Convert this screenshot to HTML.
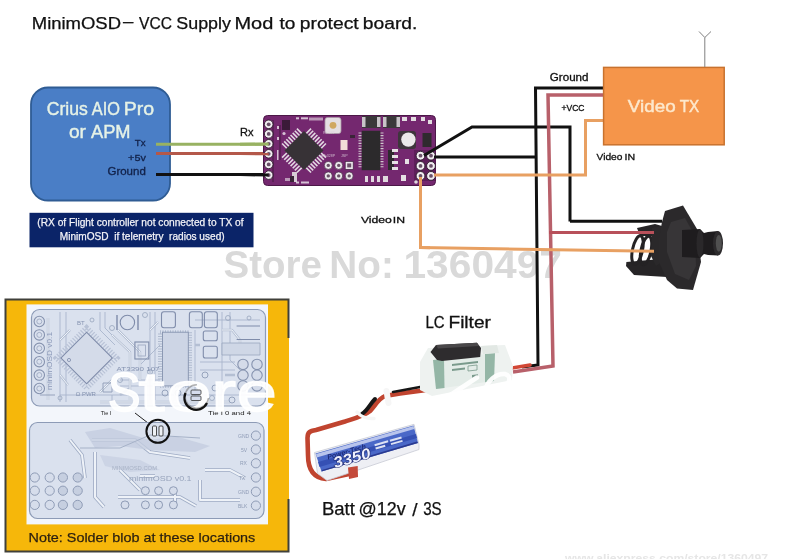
<!DOCTYPE html>
<html><head><meta charset="utf-8">
<style>
html,body{margin:0;padding:0;background:#fff;width:788px;height:559px;overflow:hidden}
svg{display:block;font-family:"Liberation Sans",sans-serif;filter:blur(0.35px)}
</style></head><body>
<svg width="788" height="559" viewBox="0 0 788 559">
<rect width="788" height="559" fill="#fff"/>
<!-- watermark -->
<g font-size="39.5" font-weight="bold" fill="#d9d9d9"><text x="223.53" y="278.2" textLength="98.30" lengthAdjust="spacingAndGlyphs">Store</text><text x="329.35" y="278.2" textLength="64.48" lengthAdjust="spacingAndGlyphs">No:</text><text x="403.42" y="278.2" textLength="158.62" lengthAdjust="spacingAndGlyphs">1360497</text></g>

<!-- title -->
<g font-size="15.6" fill="#111" stroke="#111" stroke-width="0.25"><text x="31.76" y="29" textLength="89.29" lengthAdjust="spacingAndGlyphs">MinimOSD</text><text x="123.00" y="27.2" textLength="10.37" lengthAdjust="spacingAndGlyphs">–</text><text x="139.00" y="29" textLength="33.04" lengthAdjust="spacingAndGlyphs">VCC</text><text x="176.30" y="29" textLength="54.60" lengthAdjust="spacingAndGlyphs">Supply</text><text x="234.43" y="29" textLength="38.88" lengthAdjust="spacingAndGlyphs">Mod</text><text x="279.46" y="29" textLength="15.91" lengthAdjust="spacingAndGlyphs">to</text><text x="299.77" y="29" textLength="58.85" lengthAdjust="spacingAndGlyphs">protect</text><text x="362.77" y="29" textLength="54.61" lengthAdjust="spacingAndGlyphs">board.</text></g>

<!-- Blue controller box -->
<rect x="31" y="87.5" width="139" height="113" rx="17" fill="#4a7ec6" stroke="#2f5c94" stroke-width="1.8"/>
<g font-size="17.6" fill="#e6f2e6" stroke="#e6f2e6" stroke-width="0.4"><text x="46.70" y="114.5" textLength="41.07" lengthAdjust="spacingAndGlyphs" xml:space="preserve">Crius</text><text x="91.80" y="114.5" textLength="28.16" lengthAdjust="spacingAndGlyphs" xml:space="preserve">AIO</text><text x="123.75" y="114.5" textLength="30.42" lengthAdjust="spacingAndGlyphs" xml:space="preserve">Pro</text></g>
<g font-size="17.6" fill="#e6f2e6" stroke="#e6f2e6" stroke-width="0.4"><text x="68.94" y="138.4" textLength="17.03" lengthAdjust="spacingAndGlyphs" xml:space="preserve">or</text><text x="91.00" y="138.4" textLength="39.59" lengthAdjust="spacingAndGlyphs" xml:space="preserve">APM</text></g>
<g font-size="9.8" fill="#12224a" stroke="#12224a" stroke-width="0.3"><text x="134.80" y="146.3" textLength="10.78" lengthAdjust="spacingAndGlyphs" xml:space="preserve">Tx</text></g>
<g font-size="9.8" fill="#12224a" stroke="#12224a" stroke-width="0.3"><text x="128.05" y="160.8" textLength="17.83" lengthAdjust="spacingAndGlyphs" xml:space="preserve">+5v</text></g>
<g font-size="10.2" fill="#12224a" stroke="#12224a" stroke-width="0.3"><text x="107.44" y="175.3" textLength="38.37" lengthAdjust="spacingAndGlyphs" xml:space="preserve">Ground</text></g>

<!-- Navy note -->
<rect x="29.5" y="212.8" width="224" height="34.5" fill="#0b2468"/>
<g font-size="10.5" fill="#f4f4f8" stroke="#f4f4f8" stroke-width="0.25"><text x="37.32" y="226.4" textLength="206.20" lengthAdjust="spacingAndGlyphs" xml:space="preserve">(RX of Flight controller not connected to TX of</text></g>
<g font-size="10.5" fill="#f4f4f8" stroke="#f4f4f8" stroke-width="0.25"><text x="59.84" y="239.6" textLength="164.78" lengthAdjust="spacingAndGlyphs" xml:space="preserve">MinimOSD  if telemetry  radios used)</text></g>

<!-- wires left -->
<line x1="156" y1="144.3" x2="270" y2="144.3" stroke="#98b262" stroke-width="3"/>
<line x1="156" y1="153.5" x2="270" y2="153.5" stroke="#b4584a" stroke-width="3"/>
<line x1="156" y1="174.5" x2="270" y2="174.5" stroke="#111" stroke-width="3"/>
<g font-size="11.3" fill="#111" stroke="#111" stroke-width="0.3"><text x="240.02" y="135.5" textLength="13.49" lengthAdjust="spacingAndGlyphs" xml:space="preserve">Rx</text></g>

<!-- OSD board -->
<g id="osd">
<rect x="263.5" y="115.5" width="172" height="70" rx="4" fill="#74286f" stroke="#4c1848" stroke-width="1"/>
<path d="M273,120 L273,182 M280,125 L280,160" stroke="#5a2056" stroke-width="2"/>
<rect x="282" y="120" width="8" height="10" fill="#3a1a38"/>
<g fill="#f2eef2" stroke="#2a1a2a" stroke-width="0.9">
<circle cx="268.7" cy="124.3" r="4.3"/><circle cx="268.7" cy="133.9" r="4.3"/><circle cx="268.7" cy="143.8" r="4.3"/><circle cx="268.7" cy="153.8" r="4.3"/><circle cx="268.7" cy="164.4" r="4.3"/><circle cx="268.7" cy="175.1" r="4.3"/>
</g>
<g fill="#6a5068"><circle cx="268.7" cy="124.3" r="1.9"/><circle cx="268.7" cy="133.9" r="1.9"/><circle cx="268.7" cy="143.8" r="1.9"/><circle cx="268.7" cy="153.8" r="1.9"/><circle cx="268.7" cy="164.4" r="1.9"/><circle cx="268.7" cy="175.1" r="1.9"/></g>
<g transform="translate(304,150.6) rotate(45)">
<path d="M-10.5,-13.5 L-10.5,-20.5 M-7.5,-13.5 L-7.5,-20.5 M-4.5,-13.5 L-4.5,-20.5 M-1.5,-13.5 L-1.5,-20.5 M1.5,-13.5 L1.5,-20.5 M4.5,-13.5 L4.5,-20.5 M7.5,-13.5 L7.5,-20.5 M10.5,-13.5 L10.5,-20.5 M-10.5,13.5 L-10.5,20.5 M-7.5,13.5 L-7.5,20.5 M-4.5,13.5 L-4.5,20.5 M-1.5,13.5 L-1.5,20.5 M1.5,13.5 L1.5,20.5 M4.5,13.5 L4.5,20.5 M7.5,13.5 L7.5,20.5 M10.5,13.5 L10.5,20.5 M-13.5,-10.5 L-20.5,-10.5 M-13.5,-7.5 L-20.5,-7.5 M-13.5,-4.5 L-20.5,-4.5 M-13.5,-1.5 L-20.5,-1.5 M-13.5,1.5 L-20.5,1.5 M-13.5,4.5 L-20.5,4.5 M-13.5,7.5 L-20.5,7.5 M-13.5,10.5 L-20.5,10.5 M13.5,-10.5 L20.5,-10.5 M13.5,-7.5 L20.5,-7.5 M13.5,-4.5 L20.5,-4.5 M13.5,-1.5 L20.5,-1.5 M13.5,1.5 L20.5,1.5 M13.5,4.5 L20.5,4.5 M13.5,7.5 L20.5,7.5 M13.5,10.5 L20.5,10.5" stroke="#e2d8e2" stroke-width="1.6"/>
<rect x="-13.8" y="-13.8" width="27.6" height="27.6" fill="#373236"/>
</g>
<rect x="325" y="117.5" width="16" height="16" rx="2.5" fill="#e4dfe2" stroke="#a898a6" stroke-width="0.8"/>
<circle cx="333" cy="125.3" r="3.4" fill="#d0a860"/>
<rect x="340.5" y="140" width="7" height="10" fill="#f2dcd8"/>
<rect x="309" y="117.5" width="14" height="3" fill="#d8c8d6" opacity="0.7"/>
<rect x="285" y="178" width="10" height="3" fill="#d8c8d6" opacity="0.7"/>
<g fill="#ece8ec" stroke="#402440" stroke-width="0.7">
<circle cx="328.3" cy="165.4" r="4"/><circle cx="338.7" cy="165.4" r="4"/><rect x="345.2" y="161.4" width="8" height="8"/>
<circle cx="328.3" cy="175.9" r="4"/><circle cx="338.7" cy="175.9" r="4"/><circle cx="349.2" cy="175.9" r="4"/>
</g>
<g fill="#6a5068"><circle cx="328.3" cy="165.4" r="1.7"/><circle cx="338.7" cy="165.4" r="1.7"/><circle cx="328.3" cy="175.9" r="1.7"/><circle cx="338.7" cy="175.9" r="1.7"/><circle cx="349.2" cy="175.9" r="1.7"/><rect x="347.2" y="163.4" width="4" height="4"/></g>
<rect x="292" y="172" width="5" height="10" fill="#d8ccd6"/>
<path d="M358.5,133.0 L361.7,133.0 M358.5,135.6 L361.7,135.6 M358.5,138.2 L361.7,138.2 M358.5,140.8 L361.7,140.8 M358.5,143.4 L361.7,143.4 M358.5,146.0 L361.7,146.0 M358.5,148.6 L361.7,148.6 M358.5,151.2 L361.7,151.2 M358.5,153.8 L361.7,153.8 M358.5,156.4 L361.7,156.4 M358.5,159.0 L361.7,159.0 M358.5,161.6 L361.7,161.6 M358.5,164.2 L361.7,164.2 M358.5,166.8 L361.7,166.8 " stroke="#cfc6ce" stroke-width="1.1"/>
<path d="M380.3,133.0 L383.5,133.0 M380.3,135.6 L383.5,135.6 M380.3,138.2 L383.5,138.2 M380.3,140.8 L383.5,140.8 M380.3,143.4 L383.5,143.4 M380.3,146.0 L383.5,146.0 M380.3,148.6 L383.5,148.6 M380.3,151.2 L383.5,151.2 M380.3,153.8 L383.5,153.8 M380.3,156.4 L383.5,156.4 M380.3,159.0 L383.5,159.0 M380.3,161.6 L383.5,161.6 M380.3,164.2 L383.5,164.2 M380.3,166.8 L383.5,166.8 " stroke="#cfc6ce" stroke-width="1.1"/>
<rect x="361.7" y="130.8" width="18.6" height="39.4" fill="#2c2a2c"/>
<rect x="362" y="116" width="18.5" height="12" fill="#3a383a"/>
<rect x="383" y="116" width="17" height="12" fill="#3a383a"/>
<g fill="#c8c4c8"><rect x="362" y="117" width="3.5" height="10"/><rect x="377" y="117" width="3.5" height="10"/><rect x="383" y="117" width="3.5" height="10"/><rect x="396.5" y="117" width="3.5" height="10"/></g>
<g fill="#e2dce0"><rect x="402" y="117" width="5" height="4"/><rect x="411" y="117" width="5" height="4"/><rect x="421" y="117" width="4" height="4"/><rect x="428" y="120" width="4" height="4"/></g>
<rect x="398" y="131" width="18" height="18" rx="3" fill="#3e363c"/>
<circle cx="408.4" cy="139.6" r="7.2" fill="#ebe9ea"/>
<rect x="422.5" y="133" width="9" height="14" fill="#2e2a2e"/>
<rect x="388" y="150" width="6" height="20" fill="#2e2a2e"/>
<g fill="#e6e0e4"><rect x="392" y="149" width="6" height="3"/><rect x="392" y="155" width="6" height="3"/><rect x="392" y="161" width="6" height="3"/><rect x="392" y="167" width="6" height="3"/><rect x="405" y="159" width="4" height="5"/><rect x="401" y="175" width="5" height="6"/></g>
<g fill="#e0d8de"><rect x="365" y="176" width="3" height="6"/><rect x="371" y="176" width="3" height="6"/><rect x="377" y="176" width="3" height="6"/><rect x="383" y="176" width="5" height="6"/></g>
<rect x="414" y="150" width="21.5" height="31" fill="#5e1e5a"/>
<g fill="#f2eef2" stroke="#2a1a2a" stroke-width="0.9">
<circle cx="420.5" cy="155.7" r="4.4"/><circle cx="431" cy="155.7" r="4.4"/>
<circle cx="420.5" cy="165.9" r="4.4"/><circle cx="431" cy="165.9" r="4.4"/>
<circle cx="420.5" cy="175.9" r="4.4"/><circle cx="431" cy="175.9" r="4.4"/>
</g>
<g fill="#6a5068"><circle cx="420.5" cy="155.7" r="1.9"/><circle cx="431" cy="155.7" r="1.9"/><circle cx="420.5" cy="165.9" r="1.9"/><circle cx="431" cy="165.9" r="1.9"/><circle cx="420.5" cy="175.9" r="1.9"/><circle cx="431" cy="175.9" r="1.9"/></g>
<circle cx="416" cy="182" r="1.8" fill="#e0d8de"/>
<g fill="#e6dce6" opacity="0.85">
<circle cx="284" cy="133.5" r="1.6"/>
<text x="321" y="156.5" font-size="3.6" fill="#ddd0dc">ATs328P</text><text x="341" y="156.5" font-size="3.6" fill="#ddd0dc">JSP</text>
<text x="323" y="133.5" font-size="3.6" fill="#ddd0dc">RESET</text>
<rect x="296" y="117.3" width="3" height="2"/><rect x="301" y="117.3" width="7" height="2"/>
<rect x="296" y="181.5" width="3" height="2"/><rect x="301" y="181.5" width="8" height="2"/>
<rect x="277" y="126" width="2" height="3"/><rect x="277" y="137" width="2" height="3"/><rect x="277" y="150" width="1.5" height="10"/>
</g>
<g fill="#3a2438"><rect x="290" y="176" width="4" height="6"/><rect x="350" y="135" width="5" height="3"/></g>

</g>
<line x1="240" y1="144.3" x2="268.7" y2="144" stroke="#98b262" stroke-width="3"/>
<line x1="240" y1="153.6" x2="268.7" y2="153.8" stroke="#b4584a" stroke-width="3"/>
<line x1="240" y1="174.5" x2="268.7" y2="175.1" stroke="#111" stroke-width="3"/>

<!-- wires right -->
<g fill="none" stroke-width="3" stroke-linejoin="miter">
<polyline points="424,155.5 472,127 570,127 570,221.5" stroke="#111"/>
<polyline points="434,157 536,157" stroke="#111"/>
<polyline points="603,88 535.5,88 538,365 522,367" stroke="#111"/>
<polyline points="603,95 548,95 553,366 513,372" stroke="#b8606a" stroke-width="3.5"/>
<polyline points="434,175 585.5,175 585.5,120.5 603,120.5" stroke="#e8a062"/>
<polyline points="420.5,177 420.5,247.6 430,247.7" stroke="#e8a062"/>

</g>
<g font-size="10.2" fill="#111" stroke="#111" stroke-width="0.3"><text x="549.83" y="80.7" textLength="38.68" lengthAdjust="spacingAndGlyphs" xml:space="preserve">Ground</text></g>
<g font-size="8.4" fill="#111" stroke="#111" stroke-width="0.3"><text x="561.49" y="111.4" textLength="23.05" lengthAdjust="spacingAndGlyphs" xml:space="preserve">+VCC</text></g>
<g font-size="9.3" fill="#111" stroke="#111" stroke-width="0.3"><text x="596.59" y="160.4" textLength="25.86" lengthAdjust="spacingAndGlyphs" xml:space="preserve">Video</text><text x="624.59" y="160.4" textLength="10.61" lengthAdjust="spacingAndGlyphs" xml:space="preserve">IN</text></g>
<g font-size="9.6" fill="#111" stroke="#111" stroke-width="0.3"><text x="360.97" y="222.9" textLength="30.94" lengthAdjust="spacingAndGlyphs" xml:space="preserve">Video</text><text x="392.85" y="222.9" textLength="12.24" lengthAdjust="spacingAndGlyphs" xml:space="preserve">IN</text></g>

<!-- Video TX -->
<rect x="603.6" y="67.4" width="120.6" height="77.4" fill="#f5954a" stroke="#c8722e" stroke-width="1.5"/>
<g font-size="16.8" fill="#fde8cc" stroke="#fde8cc" stroke-width="0.45"><text x="627.89" y="111.7" textLength="47.77" lengthAdjust="spacingAndGlyphs" xml:space="preserve">Video</text><text x="679.64" y="111.7" textLength="19.50" lengthAdjust="spacingAndGlyphs" xml:space="preserve">TX</text></g>
<polyline points="704.8,67 704.8,37.5 699,31.5" fill="none" stroke="#808080" stroke-width="1"/>
<polyline points="704.8,37.5 711,31.5" fill="none" stroke="#808080" stroke-width="1"/>

<!-- camera -->
<g id="cam">
<path d="M626.4,262 L661,259 L667,277 L634,275 L626,266 Z" fill="#262426"/>
<path d="M637,228 L655,224 L662,226 L662,236 L640,236 Z" fill="#262426"/>
<ellipse cx="637.5" cy="250" rx="5" ry="14.5" fill="none" stroke="#242224" stroke-width="3" transform="rotate(12 637.5 250)"/>
<ellipse cx="646" cy="250.5" rx="5" ry="14.5" fill="none" stroke="#242224" stroke-width="3" transform="rotate(12 646 250.5)"/>
<path d="M652,228 L662,226 L662,262 L656,266 L651,256 Z" fill="#2a282a"/>
<path d="M665,211 L683,205.5 L697,229 L701,262 L693,290 L677,288.5 L667,280 L659,262 L659,238 L662,222 Z" fill="#2b292b"/>
<path d="M671,222 L685,218 L695,236 L696,266 L689,280 L675,274 L667,252 L667,232 Z" fill="#373537"/>
<path d="M682,230 L700,229 L704,233 L708,232 L718,231 L718,255.5 L708,255 L704,254 L700,258 L682,257 Z" fill="#1e1c1e"/>
<ellipse cx="700" cy="243.5" rx="3.5" ry="14" fill="#2a282a"/>
<ellipse cx="718" cy="243.3" rx="5" ry="12.2" fill="#2c2a2c"/>
<ellipse cx="718.8" cy="243.3" rx="3" ry="8.4" fill="#505050"/>
</g>
<line x1="549" y1="232.5" x2="654" y2="232.5" stroke="#b8505a" stroke-width="3"/>
<line x1="420.5" y1="247.6" x2="654" y2="251.2" stroke="#e8a062" stroke-width="3"/>
<line x1="570" y1="221.3" x2="662" y2="221.3" stroke="#111" stroke-width="3"/>
<!-- battery wire -->
<g fill="none" stroke-linecap="round" stroke-linejoin="round">
<path d="M349,474 L326,479 C314,478 308,470 308,455 L307.5,438 C307.5,432 310,431 316,430 L345,421.5 C356,418 364,416 370,411 C375,406 378,399 385,396 L400,393.5 L430,389.5" stroke="#c0442f" stroke-width="4.6"/>
<path d="M375,399 C370,404 368,410 362,414" stroke="#161616" stroke-width="4"/>
<path d="M393,392 L420,387" stroke="#161616" stroke-width="2.6"/>
<path d="M386.5,391 L388.5,403" stroke="#f6f6f6" stroke-width="6"/>
<path d="M357,412 C361,417 366,419 374,418.5" stroke="#f6f6f6" stroke-width="3.5"/>
<path d="M494,371 L530,365" stroke="#d24836" stroke-width="3.5"/>
</g>
<!-- LC filter -->
<g id="lc">
<path d="M420,362 L428,348 L505,345 L513,366 L512,380 L432,396 L420,390 Z" fill="#eef2f0"/>
<path d="M433,360 L495,353 L494,381 L436,389 Z" fill="#e4ece8"/>
<path d="M433,360 L444,359 L444.5,388 L436,389 Z" fill="#94b6a6"/>
<path d="M485,354 L495,353 L494,381 L485,382.3 Z" fill="#94b6a6"/>
<path d="M430.5,352 L436,345 L477,342.7 L481,348 L480.2,357 L442,361 L437,360 Z" fill="#2e2c2e"/>
<path d="M436,345 L477,342.7 L479,346 L438,348.5 Z" fill="#4a484a"/>
<g fill="#7a9a8c"><path d="M452,364 L478,361 L478,363 L452,366 Z"/><path d="M452,369 L465,367.5 L465,369.5 L452,371 Z"/><path d="M468,366 L477,365 L477,370 L468,371 Z" fill="none" stroke="#7a9a8c" stroke-width="0.8"/><path d="M472,375 L478,374.3 L478,377 L472,377.7 Z"/></g>
<path d="M481,346 L497,345 L499,353 L483,354 Z" fill="#e2e8e4"/>
</g>
<!-- battery -->
<g id="batt">
<path d="M314.5,452.5 L414,424.3 L419,444.5 L419,449.5 L327,480.5 L317.5,473.5 Z" fill="#eeeff4" stroke="#c8cad4" stroke-width="0.8"/>
<path d="M315.5,453.5 L413.5,425.5 L418,443 L321.5,471.5 Z" fill="#4a68c8"/>
<path d="M316,454 L413.5,426 L414.2,429 L316.8,457.5 Z" fill="#b8c4ec"/><path d="M318,462 L416,434 L417,438 L319.5,467 Z" fill="#3550b4"/>
<path d="M322,470 L417,441.5 L418,443 L321.5,471.5 Z" fill="#2a3a90"/>
<text x="0" y="0" font-size="7" font-weight="bold" font-style="italic" fill="#1c2a78" transform="translate(328,459.5) rotate(-16)" textLength="40" lengthAdjust="spacingAndGlyphs">Power-Tech</text>
<text x="0" y="0" font-size="15" font-weight="bold" font-style="italic" fill="#eef0ff" stroke="#1a2468" stroke-width="1" paint-order="stroke" transform="translate(335,468) rotate(-16)" textLength="38" lengthAdjust="spacingAndGlyphs">3350</text>
<g fill="#dde2f4" transform="translate(376,450) rotate(-16)"><rect x="0" y="-6" width="14" height="2"/><rect x="0" y="-2.5" width="10" height="2"/><rect x="16" y="-6" width="12" height="2"/><rect x="16" y="-2.5" width="12" height="2"/></g>
<path d="M348,467.5 L357.7,466 L358,477 L349,479 Z" fill="#c44a3a"/>
</g>
<g fill="none" stroke="#fff" stroke-width="4.5" stroke-linecap="round" opacity="0.95">
<path d="M449,396 L477,377.5"/>
<path d="M485,391 C487,381 496,373 505,374 C509,375 510,378 509,381"/>
</g>
<!-- labels -->
<g font-size="16.4" fill="#111" stroke="#111" stroke-width="0.3"><text x="425.42" y="327.9" textLength="19.09" lengthAdjust="spacingAndGlyphs" xml:space="preserve">LC</text><text x="448.49" y="327.9" textLength="42.39" lengthAdjust="spacingAndGlyphs" xml:space="preserve">Filter</text></g>
<g font-size="17.5" fill="#111" stroke="#111" stroke-width="0.25"><text x="321.91" y="514.5" textLength="33.02" lengthAdjust="spacingAndGlyphs" xml:space="preserve">Batt</text><text x="358.57" y="514.5" textLength="47.12" lengthAdjust="spacingAndGlyphs" xml:space="preserve">@12v</text><text x="412.3" y="515.5" font-size="19">/</text><text x="423.19" y="514.5" textLength="18.50" lengthAdjust="spacingAndGlyphs" xml:space="preserve">3S</text></g>

<!-- Yellow panel -->
<rect x="5" y="299" width="284" height="253" fill="#f6b70a"/>
<path d="M288.5,338 L288.5,299.5 L5.5,299.5 L5.5,551.5 L288.5,551.5 L288.5,499" fill="none" stroke="#40403a" stroke-width="2"/>
<rect x="26.5" y="304.4" width="241.5" height="220" fill="#f3f6fb"/>
<g id="pcb1">
<rect x="31.5" y="309.5" width="234" height="96.5" rx="8" fill="#dae1ee" stroke="#8d9bb6" stroke-width="1.2"/>
<g fill="none" stroke="#a9b6cc" stroke-width="0.9">
<path d="M60,312 L60,402 M66,312 L66,402 M100,312 L100,330 L115,345 M105,312 L105,328 L120,343 M112,395 L112,405 M150,312 L150,400 M155,312 L155,400 M195,330 L195,400 M230,312 L230,360 L240,370 M222,312 L222,395 M120,380 L160,380 M120,386 L160,386 M60,395 L250,395 M140,365 L160,345 M195,320 L260,320 M200,362 L235,362 M200,370 L235,370"/>
</g>
<g fill="none" stroke="#b4bfd3" stroke-width="2.4" stroke-linejoin="round">
<path d="M48,318 L48,400 M112,335 L130,352 L130,400 M118,330 L140,352 L140,380 M100,402 L230,402 M150,330 L158,322 M195,345 L200,345 M222,330 L232,330 L240,340 L240,355 M175,390 L175,402 M225,375 L235,375 M120,395 L130,388 M60,340 L70,330 M60,375 L68,385 M112,380 L100,392"/>
</g>
<g fill="none" stroke="#eef2f8" stroke-width="1" stroke-linejoin="round">
<path d="M48,318 L48,400 M112,335 L130,352 L130,400 M118,330 L140,352 L140,380 M100,402 L230,402 M150,330 L158,322 M222,330 L232,330 L240,340 L240,355 M175,390 L175,402 M60,340 L70,330 M60,375 L68,385 M112,380 L100,392"/>
</g>
<g fill="none" stroke="#97a4bd" stroke-width="0.8">
<circle cx="112" cy="328" r="2.5"/><circle cx="145" cy="315" r="2.5"/><circle cx="228" cy="318" r="2.5"/><circle cx="249" cy="318" r="2"/><circle cx="120" cy="380" r="2.5"/><circle cx="150" cy="372" r="2.5"/><circle cx="225" cy="350" r="2.5"/><circle cx="92" cy="320" r="2"/><circle cx="60" cy="398" r="2"/><circle cx="212" cy="398" r="2.5"/>
</g>
<path d="M222,343 L260,343 L260,355 L222,355 Z" fill="#cfd7e6" stroke="#9aa6be" stroke-width="0.8"/>
<path d="M103,383 L112,383 L112,392 L103,392 Z M40,395 L55,395" fill="none" stroke="#8f9cb6" stroke-width="0.9"/>
<g fill="#dae1ee" stroke="#8592ae" stroke-width="1.1">
<circle cx="39.3" cy="321.5" r="5.2"/><circle cx="39.3" cy="334.9" r="5.2"/><circle cx="39.3" cy="348.3" r="5.2"/>
<circle cx="39.3" cy="361.7" r="5.2"/><circle cx="39.3" cy="375.1" r="5.2"/><circle cx="39.3" cy="388.5" r="5.2"/>
</g>
<g fill="#dae1ee" stroke="#96a2bb" stroke-width="0.8"><circle cx="39.3" cy="321.5" r="2.5"/><circle cx="39.3" cy="334.9" r="2.5"/><circle cx="39.3" cy="348.3" r="2.5"/><circle cx="39.3" cy="361.7" r="2.5"/><circle cx="39.3" cy="375.1" r="2.5"/><circle cx="39.3" cy="388.5" r="2.5"/></g>
<text x="0" y="0" font-size="7" fill="#8a98b8" transform="translate(52,390) rotate(-90)" textLength="58" lengthAdjust="spacingAndGlyphs">minimOSD v0.1</text>
<g transform="translate(86.6,358) rotate(45)">
<rect x="-21.5" y="-21.5" width="43" height="43" fill="none" stroke="#b8c2d6" stroke-width="5" stroke-dasharray="1.2,1.6"/>
<rect x="-18.2" y="-18.2" width="36.4" height="36.4" fill="#d4dbe9" stroke="#7f8caa" stroke-width="1.1"/>
</g>
<circle cx="69" cy="360" r="1.6" fill="none" stroke="#7f8caa" stroke-width="0.8"/>
<text x="77" y="325" font-size="6" fill="#8492b0">BT</text>
<text x="75.8" y="396" font-size="6" fill="#8492b0">Ω PWR</text>
<text x="116.6" y="371" font-size="5.6" fill="#8492b0" textLength="43" lengthAdjust="spacingAndGlyphs">AT3390  107</text>
<circle cx="127.4" cy="322.5" r="7.2" fill="none" stroke="#7f8caa" stroke-width="1.1"/>
<path d="M117,315 L117,330 M138,315 L138,330" stroke="#7f8caa" stroke-width="1.4"/>
<rect x="134.9" y="342" width="13.9" height="17" fill="none" stroke="#7f8caa" stroke-width="1.1"/>
<rect x="138" y="345" width="7.5" height="11" fill="none" stroke="#9aa6be" stroke-width="0.8"/>
<rect x="160" y="332.2" width="30" height="53.7" fill="none" stroke="#b0bbcf" stroke-width="4" stroke-dasharray="1,1.5"/>
<rect x="162.5" y="332.2" width="25.8" height="53.7" fill="#cdd5e5" stroke="#8592ae" stroke-width="0.9"/>
<rect x="161.5" y="311.8" width="13.9" height="16" rx="2.5" fill="none" stroke="#7f8caa" stroke-width="1.1"/>
<rect x="189.4" y="311.8" width="12.9" height="16" rx="2.5" fill="none" stroke="#7f8caa" stroke-width="1.1"/>
<rect x="204.4" y="311.8" width="12.9" height="16" rx="2.5" fill="none" stroke="#7f8caa" stroke-width="1.1"/>
<rect x="203.3" y="331" width="14" height="9.8" rx="2" fill="none" stroke="#7f8caa" stroke-width="1.1"/>
<rect x="203.3" y="346.2" width="14" height="11.8" rx="2" fill="none" stroke="#7f8caa" stroke-width="1.1"/>
<path d="M236.6,326 L260,326 M236.6,339.5 L260,339.5" stroke="#7f8caa" stroke-width="1.1"/>
<g fill="#d4dbe9" stroke="#8592ae" stroke-width="1.1">
<circle cx="243" cy="364.4" r="5.2"/><circle cx="257" cy="364.4" r="5.2"/>
<circle cx="243" cy="375.2" r="5.2"/><circle cx="257" cy="375.2" r="5.2"/>
<circle cx="243" cy="385.9" r="5.2"/><circle cx="257" cy="385.9" r="5.2"/>
</g>
<g fill="none" stroke="#8f9cb6" stroke-width="0.9">
<circle cx="165" cy="393" r="3"/><circle cx="178" cy="393" r="3"/><circle cx="205" cy="375" r="3"/><circle cx="215" cy="388" r="3"/><circle cx="232" cy="400" r="3"/>
</g>
</g>
<text x="100.8" y="415" font-size="5.5" fill="#222">Tie I</text>
<text x="208" y="415" font-size="5.5" fill="#222" textLength="43" lengthAdjust="spacingAndGlyphs">Tie I    0 and 4</text>
<path d="M135,413 L148,423" stroke="#222" stroke-width="1"/>
<g id="pcb2">
<rect x="29.5" y="422.5" width="234.5" height="96" rx="8" fill="#dae1ee" stroke="#8d9bb6" stroke-width="1.2"/>
<g fill="none" stroke="#9eabc4" stroke-width="3.6" stroke-linejoin="round">
<path d="M95,452 L95,497 L104,507 M92,440 L135,440 L150,452 L190,458 M120,470 L140,490 M205,470 L230,470 L245,478 M200,480 L200,500 L240,500 M175,490 L175,505 M118,497 L180,497 L196,506 M70,440 L82,455 L85,478 M140,476 L155,476"/>
</g>
<g fill="none" stroke="#eef2f8" stroke-width="2" stroke-linejoin="round">
<path d="M95,452 L95,497 L104,507 M92,440 L135,440 L150,452 L190,458 M120,470 L140,490 M205,470 L230,470 L245,478 M200,480 L200,500 L240,500 M175,490 L175,505 M118,497 L180,497 L196,506 M70,440 L82,455 L85,478 M140,476 L155,476"/>
</g>
<path d="M85,432 L110,428 L150,440 L175,436 L210,446 L195,452 L150,450 L120,446 L95,448 Z" fill="#c4cde0" opacity="0.8"/>
<path d="M100,455 L140,460 L160,470 L130,472 L105,466 Z" fill="#c8d1e2" opacity="0.8"/>
<g fill="#d6ddeb" stroke="#8f9cb6" stroke-width="1">
<circle cx="34.8" cy="477.5" r="4.6"/><circle cx="49.7" cy="477.5" r="4.6"/><circle cx="62.9" cy="477.5" r="4.6" fill="#c6cfe0"/><circle cx="77.7" cy="477.5" r="4.6" fill="#c6cfe0"/>
<circle cx="34.8" cy="490.7" r="4.6"/><circle cx="49.7" cy="490.7" r="4.6"/><circle cx="62.9" cy="490.7" r="4.6" fill="#c6cfe0"/><circle cx="77.7" cy="490.7" r="4.6" fill="#c6cfe0"/>
<circle cx="34.8" cy="504.9" r="4.6"/><circle cx="49.7" cy="504.9" r="4.6"/><circle cx="62.9" cy="504.9" r="4.6" fill="#c6cfe0"/><circle cx="77.7" cy="504.9" r="4.6" fill="#c6cfe0"/>
<circle cx="145.4" cy="490.7" r="4"/><circle cx="158.6" cy="490.7" r="4"/><circle cx="173.4" cy="490.7" r="4"/>
<circle cx="125" cy="504.9" r="4"/><circle cx="145.4" cy="504.9" r="4"/><circle cx="158.6" cy="504.9" r="4"/><circle cx="173.4" cy="504.9" r="4"/>
<circle cx="255.9" cy="435.6" r="4.6"/><circle cx="255.9" cy="449.5" r="4.6"/><circle cx="255.9" cy="463.3" r="4.6"/>
<circle cx="255.9" cy="477.5" r="4.6"/><circle cx="255.9" cy="491.7" r="4.6"/><circle cx="255.9" cy="505.6" r="4.6"/>
</g>
<g font-size="5" fill="#8f9cb6">
<text x="238" y="437.5">GND</text><text x="241" y="451.5">5V</text><text x="240" y="465">RX</text><text x="239" y="479.5">TX</text><text x="238" y="493.5">GND</text><text x="238" y="507.5">BLK</text>
</g>
<text x="128.9" y="481" font-size="7" fill="#98a4bc" textLength="62.7" lengthAdjust="spacingAndGlyphs">minimOSD v0.1</text>
<text x="112" y="470" font-size="5.5" fill="#a8b2c6" textLength="45" lengthAdjust="spacingAndGlyphs">MINIMOSD.COM</text>
<path d="M80,448 L120,448 L150,435 L200,438" stroke="#a6b2c8" stroke-width="1" fill="none"/>
</g>
<circle cx="157.9" cy="431.3" r="11.5" fill="none" stroke="#111" stroke-width="2"/>
<g fill="#eef1f6" stroke="#222" stroke-width="0.8"><rect x="152.5" y="426" width="4" height="10" rx="1"/><rect x="159" y="426" width="4" height="10" rx="1"/></g>
<g font-size="55" fill="#fff" fill-opacity="0.92" stroke="#fff" stroke-opacity="0.92" stroke-width="1.4"><text x="107.8" y="410.6" textLength="33" lengthAdjust="spacingAndGlyphs">S</text><text x="138.5" y="410.6" textLength="26" lengthAdjust="spacingAndGlyphs">t</text><text x="166.5" y="410.6" textLength="45" lengthAdjust="spacingAndGlyphs">o</text><text x="211.5" y="410.6" textLength="24.5" lengthAdjust="spacingAndGlyphs">r</text><text x="236.8" y="410.6" textLength="40" lengthAdjust="spacingAndGlyphs">e</text></g>
<g fill="#d6dced" stroke="#333" stroke-width="0.8"><rect x="191" y="390" width="10" height="4.5" rx="1"/><rect x="191" y="396" width="10" height="4.5" rx="1"/></g>
<path d="M208.5,398 A11.8,11.8 0 1 1 196.9,384.8" fill="none" stroke="#666" stroke-opacity="0.5" stroke-width="1.6"/>
<path d="M185.5,393 A11.8,11.8 0 0 0 207,403" fill="none" stroke="#111" stroke-width="2.2"/>
<g font-size="13.4" fill="#2a1f10" stroke="#2a1f10" stroke-width="0.25"><text x="28.52" y="542.2" textLength="226.78" lengthAdjust="spacingAndGlyphs" xml:space="preserve">Note: Solder blob at these locations</text></g>

<text x="565" y="562" font-size="10" font-weight="bold" fill="#e6e6e6" textLength="220" lengthAdjust="spacingAndGlyphs">www.aliexpress.com/store/1360497 ....</text>
</svg>
</body></html>
